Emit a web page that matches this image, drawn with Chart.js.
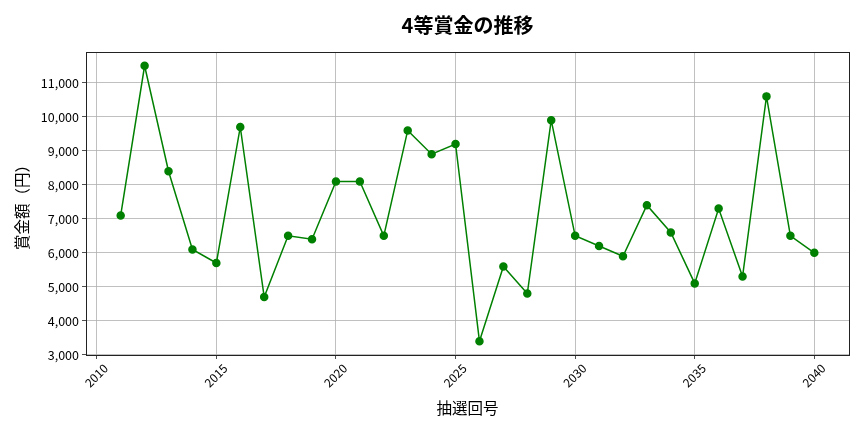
<!DOCTYPE html>
<html>
<head>
<meta charset="utf-8">
<script src="https://cdn.jsdelivr.net/npm/chart.js@4.4.1/dist/chart.umd.min.js"></script>
<style>
  html, body { margin: 0; padding: 0; background: #fff; }
  #wrap { width: 864px; height: 432px; position: relative; }
</style>
</head>
<body>
<div id="wrap"><canvas id="c" width="864" height="432"></canvas></div>
<script>
const draws = [2011, 2012, 2013, 2014, 2015, 2016, 2017, 2018, 2019, 2020,
               2021, 2022, 2023, 2024, 2025, 2026, 2027, 2028, 2029, 2030,
               2031, 2032, 2033, 2034, 2035, 2036, 2037, 2038, 2039, 2040];
const prizes = [7100, 11500, 8400, 6100, 5700, 9700, 4700, 6500, 6400, 8100,
                8100, 6500, 9600, 8900, 9200, 3400, 5600, 4800, 9900, 6500,
                6200, 5900, 7400, 6600, 5100, 7300, 5300, 10600, 6500, 6000];
const xTicks = [2010, 2015, 2020, 2025, 2030, 2035, 2040];
const yTicks = [3000, 4000, 5000, 6000, 7000, 8000, 9000, 10000, 11000];
const titleText = '4等賞金の推移';
const xTitle = '抽選回号';
const yTitle = '賞金額（円）';

const FONT = "'Noto Sans CJK JP', 'Noto Sans', sans-serif";

const framePlugin = {
  id: 'frame',
  afterDatasetsDraw(chart) {
    const a = chart.chartArea, ctx = chart.ctx;
    ctx.save();
    ctx.strokeStyle = '#222';
    ctx.lineWidth = 1;
    ctx.strokeRect(Math.round(a.left) + 0.5, Math.round(a.top) + 0.5,
                   Math.round(a.right - a.left), Math.round(a.bottom - a.top));
    ctx.restore();
  }
};

const axesTitlePlugin = {
  id: 'axesTitle',
  afterDraw(chart) {
    const a = chart.chartArea, ctx = chart.ctx;
    ctx.save();
    ctx.fillStyle = '#000';
    ctx.font = "bold 20px " + FONT;
    ctx.textAlign = 'center';
    ctx.textBaseline = 'middle';
    ctx.fillText(titleText, (a.left + a.right) / 2, 25);
    ctx.restore();
  }
};

new Chart(document.getElementById('c'), {
  type: 'line',
  data: {
    datasets: [{
      data: draws.map((d, i) => ({ x: d, y: prizes[i] })),
      borderColor: '#008000',
      backgroundColor: '#008000',
      pointBackgroundColor: '#008000',
      pointBorderColor: '#008000',
      borderWidth: 1.5,
      pointRadius: 3.5,
      tension: 0
    }]
  },
  options: {
    responsive: false,
    animation: false,
    devicePixelRatio: 1,
    layout: { padding: { left: 0, right: 15, top: 52, bottom: 0 } },
    plugins: {
      legend: { display: false },
      tooltip: { enabled: false },
      title: { display: false }
    },
    scales: {
      x: {
        type: 'linear',
        min: 2009.55,
        max: 2041.45,
        afterBuildTicks(scale) { scale.ticks = xTicks.map(v => ({ value: v })); },
        afterFit(scale) { scale.height = 77; },
        grid: { color: '#b0b0b0', lineWidth: 0.8, tickColor: '#222', tickLength: 4 },
        border: { color: '#222', width: 1 },
        ticks: {
          color: '#000',
          font: { family: FONT, size: 12 },
          minRotation: 45,
          maxRotation: 45,
          padding: 2,
          labelOffset: 9,
          callback: v => String(v)
        },
        title: {
          display: true,
          text: xTitle,
          color: '#000',
          font: { family: FONT, size: 15.5, lineHeight: 1.2 },
          padding: { top: 0, bottom: 14.7 }
        }
      },
      y: {
        type: 'linear',
        min: 2995,
        max: 11905,
        afterBuildTicks(scale) { scale.ticks = yTicks.map(v => ({ value: v })); },
        afterFit(scale) { scale.width = 86; },
        grid: { color: '#b0b0b0', lineWidth: 0.8, tickColor: '#222', tickLength: 4 },
        border: { color: '#222', width: 1 },
        ticks: {
          color: '#000',
          font: { family: FONT, size: 12.5 },
          padding: 3,
          callback: v => v.toLocaleString('en-US')
        },
        title: {
          display: true,
          text: yTitle,
          color: '#000',
          font: { family: FONT, size: 15.5, lineHeight: 1.2 },
          padding: { top: 12.7, bottom: 0 }
        }
      }
    }
  },
  plugins: [framePlugin, axesTitlePlugin]
});
</script>
</body>
</html>
